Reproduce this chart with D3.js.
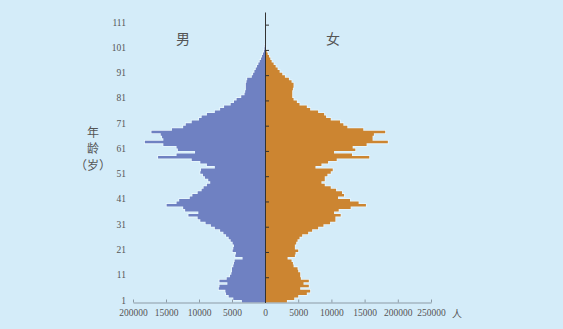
<!DOCTYPE html>
<html>
<head>
<meta charset="utf-8">
<script src="https://cdn.jsdelivr.net/npm/d3@7"></script>
<style>
  html, body { margin: 0; padding: 0; background: #d4ecf9; }
  svg { display: block; }
</style>
</head>
<body>
<div id="chart"></div>
<script>
// population by single year of age, index = age (0..101)
const male = [
  3500, 4800, 5500, 5900, 6000, 7000, 6900, 5700, 6900, 5800,
  5300, 5100, 5000, 5000, 4800, 4700, 4600, 3400, 4500, 4400,
  4900, 4800, 4700, 4900, 5200, 5500, 5900, 6300, 6800, 7600,
  8200, 9000, 9800, 10200, 11600, 10100, 12100, 12400, 14900, 13400,
  13000, 11400, 11000, 10200, 9600, 9300, 8800, 8300, 8600, 9100,
  9400, 9800, 9700, 7600, 8800, 9800, 11100, 16200, 13400, 10600,
  13200, 13400, 15400, 18200, 15400, 15600, 15800, 17200, 14100, 12400,
  12000, 11100, 10000, 9600, 8800, 7600, 6800, 6200, 5200, 4700,
  4300, 3600, 3100, 3000, 2900, 2900, 2900, 2800, 2700, 2000,
  1800, 1600, 1400, 1200, 1000, 800, 600, 450, 300, 150,
  80, 30
];
const female = [
  3300, 4400, 5000, 6300, 6800, 5300, 6600, 5800, 6600, 5400,
  5300, 5300, 5000, 4900, 4300, 4200, 4000, 3400, 4500, 4600,
  5000, 4500, 4500, 4700, 4900, 5200, 5600, 6500, 7100, 8000,
  8800, 9800, 10600, 10600, 11400, 10400, 11100, 12900, 15200, 14100,
  12800, 11000, 11900, 11600, 10700, 9900, 9000, 8500, 9000, 9000,
  9400, 9900, 10200, 7600, 8500, 9500, 10800, 15700, 13100, 10400,
  13600, 13200, 15300, 18500, 16200, 16200, 16400, 18100, 14800, 12400,
  11800, 11300, 9900, 9200, 8900, 8000, 6800, 6300, 5200, 4800,
  4300, 4100, 4100, 4100, 4200, 4300, 4300, 4000, 3600, 3000,
  2600, 2200, 1900, 1600, 1300, 1000, 800, 600, 400, 250,
  120, 50
];
const ageTicks = [1, 11, 21, 31, 41, 51, 61, 71, 81, 91, 101, 111];
const ageMarks = [10, 20, 30, 40, 50, 60, 70, 80, 90, 100, 110];
const leftTicks = [0, 5000, 10000, 15000, 20000];
const leftLabels = ["0", "5000", "10000", "15000", "200000"];
const rightTicks = [0, 5000, 10000, 15000, 20000, 25000];
const rightLabels = ["0", "5000", "10000", "15000", "200000", "250000"];

const W = 563, H = 329;
const cx = 265;
const numFont = "'Liberation Serif', 'DejaVu Serif', serif";
const cjkFont = "'Noto Sans CJK SC', sans-serif";

const svg = d3.select("#chart").append("svg")
  .attr("width", W)
  .attr("height", H)
  .attr("viewBox", [0, 0, W, H]);

svg.append("rect").attr("width", W).attr("height", H).attr("fill", "#d4ecf9");

// scales
const y = d3.scaleLinear().domain([0, 115]).range([302.5, 12]);
const xL = d3.scaleLinear().domain([0, 20000]).range([cx, 133]);
const xR = d3.scaleLinear().domain([0, 25000]).range([cx, 431]);

// one stepped outline per side, so bars of adjacent ages join without seams
function pyramidPath(values, x) {
  const p = d3.path();
  p.moveTo(x(0), y(0));
  values.forEach((v, i) => {
    p.lineTo(x(v), y(i));
    p.lineTo(x(v), y(i + 1));
  });
  p.lineTo(x(0), y(values.length));
  p.closePath();
  return p.toString();
}

const sides = [
  { values: male, x: xL, color: "#6f81c2" },
  { values: female, x: xR, color: "#cc8531" }
];

// light halo first, then the solid fill on top
svg.append("g").selectAll("path")
  .data(sides)
  .join("path")
  .attr("d", d => pyramidPath(d.values, d.x))
  .attr("fill", "none")
  .attr("stroke", "#e9f6fd")
  .attr("stroke-width", 1.6)
  .attr("stroke-linejoin", "miter");

svg.append("g").selectAll("path")
  .data(sides)
  .join("path")
  .attr("d", d => pyramidPath(d.values, d.x))
  .attr("fill", d => d.color);

// bottom axes
const axL = d3.axisBottom(xL)
  .tickValues(leftTicks)
  .tickFormat((d, i) => leftLabels[i])
  .tickSizeInner(-3)
  .tickSizeOuter(0)
  .tickPadding(7);
const axR = d3.axisBottom(xR)
  .tickValues(rightTicks)
  .tickFormat((d, i) => rightLabels[i])
  .tickSizeInner(-3)
  .tickSizeOuter(0)
  .tickPadding(7);

[axL, axR].forEach((ax, k) => {
  svg.append("g")
    .attr("transform", `translate(0,${y(0)})`)
    .call(ax)
    .call(g => g.select(".domain").attr("stroke", "#8c9aa5"))
    .call(g => g.selectAll(".tick line").attr("stroke", "#8c9aa5"))
    .call(g => g.selectAll(".tick text")
      .attr("fill", "#555")
      .attr("font-family", numFont)
      .attr("font-size", 9.5))
    .call(g => { if (k === 1) g.selectAll(".tick").filter(d => d === 0).remove(); });
});

svg.append("text")
  .attr("x", 457).attr("y", 313)
  .attr("text-anchor", "middle")
  .attr("dominant-baseline", "central")
  .attr("font-family", cjkFont)
  .attr("font-size", 10)
  .attr("fill", "#555")
  .text("人");

// age labels on the left
svg.append("g")
  .attr("transform", "translate(126,0)")
  .call(d3.axisLeft(y).tickValues(ageTicks).tickSize(0).tickPadding(0))
  .call(g => g.select(".domain").remove())
  .call(g => g.selectAll(".tick text")
    .attr("fill", "#555")
    .attr("font-family", numFont)
    .attr("font-size", 9.5));

// center axis
svg.append("g")
  .attr("transform", `translate(${cx},0)`)
  .call(d3.axisRight(y).tickValues(ageMarks).tickSizeInner(4).tickSizeOuter(0).tickFormat(""))
  .call(g => g.select(".domain").attr("stroke", "#333"))
  .call(g => g.selectAll(".tick line").attr("stroke", "#333"));

// titles
const label = (x, yy, t, size) => svg.append("text")
  .attr("x", x).attr("y", yy)
  .attr("text-anchor", "middle")
  .attr("dominant-baseline", "central")
  .attr("font-family", cjkFont)
  .attr("font-size", size)
  .attr("fill", "#555")
  .text(t);

label(183, 38, "男", 14);
label(333, 38, "女", 14);
label(93, 131.5, "年", 12);
label(93, 147, "龄", 12);
label(93, 164, "（岁）", 12);
</script>
</body>
</html>
